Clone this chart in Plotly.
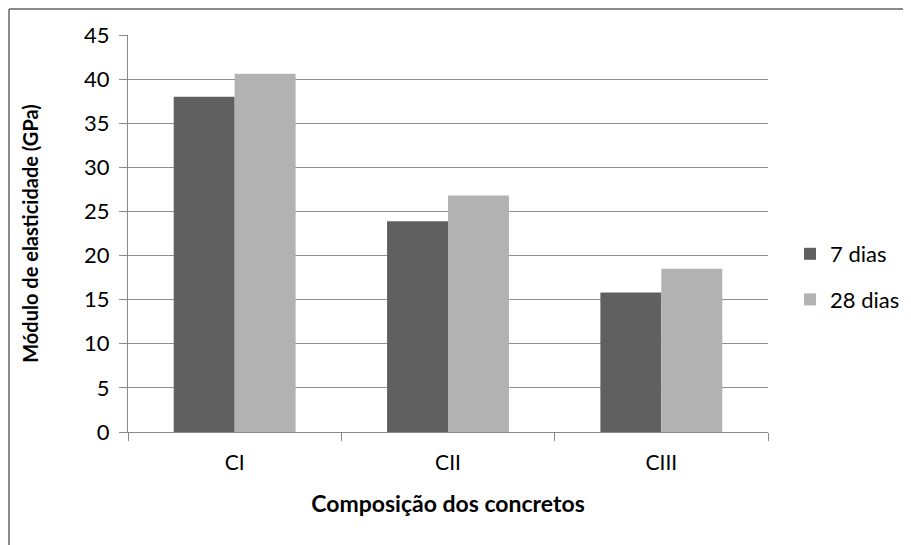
import plotly.graph_objects as go

categories = ["CI", "CII", "CIII"]
series_names = ["7 dias", "28 dias"]
values_7 = [38.0, 23.9, 15.8]
values_28 = [40.6, 26.8, 18.5]
y_ticks = [0, 5, 10, 15, 20, 25, 30, 35, 40, 45]

colors = ["#606060", "#b2b2b2"]
FONT = "Lato"

fig = go.Figure()
fig.add_trace(go.Bar(x=categories, y=values_7, name=series_names[0], legendgroup="a",
                     marker=dict(color=colors[0], line=dict(width=0))))
fig.add_trace(go.Bar(x=categories, y=values_28, name=series_names[1], legendgroup="b",
                     marker=dict(color=colors[1], line=dict(width=0))))

# page has an 8px body margin, so figure coords = page coords - 8
W, H = 903, 537
L, T = 120, 27
R = W - 760
B = H - 424
pw, ph = W - L - R, H - T - B
fx = (0 - L) / pw + 1.0 / pw
fy = 1 + (T - 1) / ph

fig.update_layout(
    width=W, height=H,
    margin=dict(l=L, r=R, t=T, b=B, pad=0, autoexpand=False),
    paper_bgcolor="white", plot_bgcolor="white",
    barmode="group", bargap=1.5 / 3.5, bargroupgap=0,
    font=dict(family=FONT, color="#000000", size=20),
    showlegend=True,
    legend=dict(x=(782 - L) / pw, y=1 - (269 - T) / ph, xanchor="left", yanchor="middle",
                font=dict(family=FONT, size=22, color="#000"),
                itemwidth=30, tracegroupgap=14, bgcolor="rgba(0,0,0,0)"),
    xaxis=dict(
        type="category", tickson="boundaries", ticks="outside", ticklen=8,
        tickcolor="#888888", showline=True, linecolor="#888888", linewidth=1,
        showgrid=False, tickfont=dict(family=FONT, size=21, color="#000"),
        ticklabelstandoff=12,
        title=dict(text="<b>Composição dos concretos</b>", standoff=22,
                   font=dict(family=FONT, size=23, color="#000")),
    ),
    yaxis=dict(
        range=[0, 45], tickvals=y_ticks, ticks="outside", ticklen=8,
        tickcolor="#888888", showline=True, linecolor="#888888", linewidth=1,
        showgrid=True, gridcolor="#8c8c8c", gridwidth=1, zeroline=False,
        tickfont=dict(family=FONT, size=22, color="#000"),
        ticklabelstandoff=5,
        title=dict(text="<b>Módulo de elasticidade (GPa)</b>", standoff=40,
                   font=dict(family=FONT, size=20, color="#000")),
    ),
    shapes=[
        dict(type="line", xref="paper", yref="paper", x0=fx, x1=fx, y0=-0.4, y1=fy,
             line=dict(color="#8a8a8a", width=2)),
        dict(type="line", xref="paper", yref="paper", x0=fx, x1=1.4, y0=fy, y1=fy,
             line=dict(color="#8a8a8a", width=2)),
    ],
)

fig.write_html("out.html")
